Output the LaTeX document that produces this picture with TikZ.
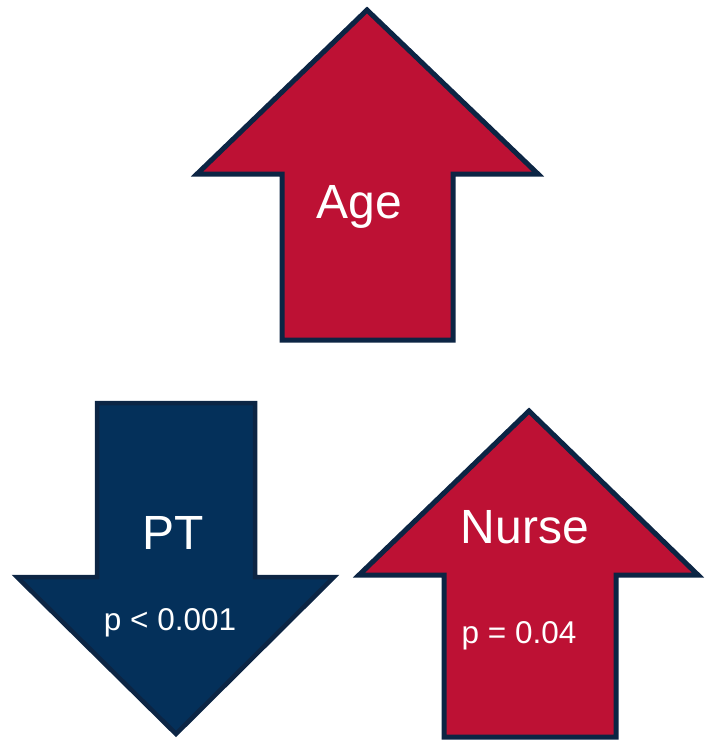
\documentclass[tikz,border=0pt]{standalone}
\usepackage{fontspec}
\setmainfont{Liberation Sans}
\usetikzlibrary{positioning}
\definecolor{upred}{HTML}{BD1134}
\definecolor{downblue}{HTML}{04305A}
\definecolor{edgeblue}{HTML}{0C2544}
\begin{document}
\begin{tikzpicture}[x=1pt, y=-1pt]
    \tikzstyle{uparrow} = [fill=upred, draw=edgeblue, line width=5pt, line join=miter]
    \tikzstyle{downarrow} = [fill=downblue, draw=edgeblue, line width=4.5pt, line join=miter]
    \tikzstyle{biglabel} = [text=white, inner sep=0pt, anchor=base, font=\fontsize{48}{52}\selectfont]
    \tikzstyle{plabel} = [text=white, inner sep=0pt, anchor=base, font=\fontsize{31.5}{36}\selectfont]

    \useasboundingbox (0,0) rectangle (705,741);

    % Age (up)
    \draw [uparrow] (367,10) -- (197,174) -- (282,174) -- (282,340)
        -- (453,340) -- (453,174) -- (538,174) -- cycle;
    % PT (down)
    \draw [downarrow] (97,403) -- (255,403) -- (255,577) -- (334,577)
        -- (176,734) -- (17,577) -- (97,577) -- cycle;
    % Nurse (up)
    \draw [uparrow] (529,411) -- (359,575) -- (444,575) -- (444,737)
        -- (616,737) -- (616,575) -- (698,575) -- cycle;

    \node (age)   [biglabel] at (359,218) {Age};
    \node (pt)    [biglabel] at (173,549) {PT};
    \node (ptp)   [plabel]   at (170,630) {p < 0.001};
    \node (nurse) [biglabel] at (525,543) {Nurse};
    \node (nursep)[plabel]   at (519,643) {p = 0.04};
\end{tikzpicture}
\end{document}
